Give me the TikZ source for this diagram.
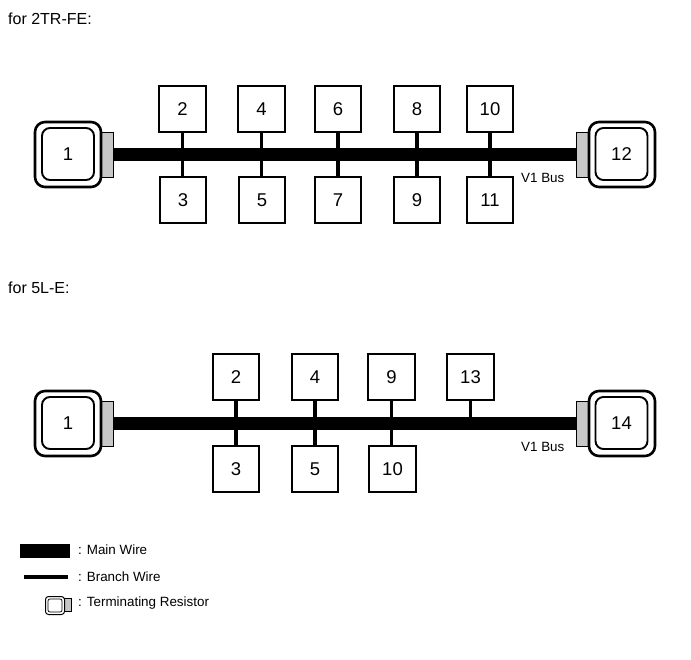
\documentclass[tikz,border=0pt]{standalone}
\usepackage{fontspec}
\setmainfont{Liberation Sans}
\definecolor{resgray}{gray}{0.78}
\tikzset{
  ecu/.style={draw,line width=2.4pt,minimum width=46.5pt,minimum height=46.5pt,inner sep=0pt,font=\fontsize{18.5}{20}\selectfont,fill=white},
  outerterm/.style={draw,line width=2.6pt,rounded corners=10pt,minimum width=66pt,minimum height=65pt,inner sep=0pt},
  innerterm/.style={draw,line width=1.9pt,rounded corners=8pt,minimum width=52pt,minimum height=52pt,inner sep=0pt,font=\fontsize{18.5}{20}\selectfont},
  resistor/.style={draw,line width=.6pt,fill=resgray,minimum width=12pt,minimum height=45pt,inner sep=0pt},
  mainwire/.style={line width=13pt},
  branchwire/.style={line width=3.4pt},
  caption/.style={anchor=west,inner sep=0pt,font=\fontsize{16}{18}\selectfont},
  small/.style={anchor=west,inner sep=0pt,font=\fontsize{13.4}{15}\selectfont},
}
\begin{document}
\begin{tikzpicture}[x=1pt,y=-1pt]
\useasboundingbox (0,0) rectangle (691,660);
\node[caption] (t1) at (8,19) {for 2TR-FE:};
\node[caption] (t2) at (8,288) {for 5L-E:};
% --- first diagram
\node[resistor] (r1) at (107.5,154.5) {};
\node[resistor] (r12) at (582,154.5) {};
\draw[mainwire] (r1.east) -- (r12.west);
\node[ecu] (a2) at (182.5,109) {2};
\node[ecu] (a3) at (183,200) {3};
\node[ecu] (a4) at (261.5,109) {4};
\node[ecu] (a5) at (262,200) {5};
\node[ecu] (a6) at (338,109) {6};
\node[ecu] (a7) at (338,200) {7};
\node[ecu] (a8) at (417,109) {8};
\node[ecu] (a9) at (417,200) {9};
\node[ecu] (a10) at (490,109) {10};
\node[ecu] (a11) at (490,200) {11};
\foreach \u/\v in {a2/a3,a4/a5,a6/a7,a8/a9,a10/a11}{\draw[branchwire] (\u.south) -- (\u.south |- \v.north);}
\node[outerterm] (o1) at (68,154.5) {};
\node[innerterm] (i1) at (68,154) {1};
\node[outerterm] (o12) at (622,154.5) {};
\node[innerterm] (i12) at (621.5,154) {12};
\node[small] (b1) at (521,178) {V1 Bus};
% --- second diagram
\node[resistor] (s1) at (107.5,423.5) {};
\node[resistor] (s14) at (582,423.5) {};
\draw[mainwire] (s1.east) -- (s14.west);
\node[ecu] (c2) at (236,377) {2};
\node[ecu] (c3) at (236,469) {3};
\node[ecu] (c4) at (315,377) {4};
\node[ecu] (c5) at (315,469) {5};
\node[ecu] (c9) at (391.5,377) {9};
\node[ecu] (c10) at (392.5,469) {10};
\node[ecu] (c13) at (470.5,377) {13};
\coordinate (j13) at (470.5,423);
\foreach \u/\v in {c2/c3,c4/c5,c9/c10}{\draw[branchwire] (\u.south) -- (\u.south |- \v.north);}
\draw[branchwire] (c13.south) -- (j13);
\node[outerterm] (o2) at (68,423.5) {};
\node[innerterm] (i2) at (68,423) {1};
\node[outerterm] (o14) at (622,423.5) {};
\node[innerterm] (i14) at (621.5,423) {14};
\node[small] (b2) at (521,447) {V1 Bus};
% --- legend
\coordinate (m1) at (20,551); \coordinate (m2) at (70,551);
\draw[mainwire,line width=14pt] (m1) -- (m2);
\coordinate (n1) at (24,577); \coordinate (n2) at (68,577);
\draw[branchwire] (n1) -- (n2);
\node[draw,line width=.5pt,fill=resgray,minimum width=7pt,minimum height=13pt,inner sep=0pt] (lr) at (67.5,604.5) {};
\node[draw,line width=1pt,rounded corners=3pt,minimum width=19pt,minimum height=18pt,inner sep=0pt,fill=white] (lo) at (55,605.5) {};
\node[draw,line width=.7pt,rounded corners=2pt,minimum width=14pt,minimum height=13pt,inner sep=0pt] (li) at (55,605.5) {};
\node[small] (l1) at (78,550) {: Main Wire};
\node[small] (l2) at (78,577) {: Branch Wire};
\node[small] (l3) at (78,603) {: Terminating Resistor};
\end{tikzpicture}
\end{document}
